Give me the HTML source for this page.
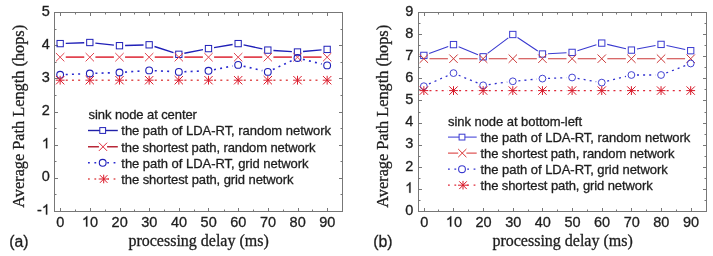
<!DOCTYPE html><html><head><meta charset="utf-8"><style>html,body{margin:0;padding:0;background:#fff;width:713px;height:256px;overflow:hidden}svg{display:block;will-change:transform}text{stroke:#1e1e1e;stroke-width:0.3px}</style></head><body><svg width="713" height="256" viewBox="0 0 713 256">
<rect width="713" height="256" fill="#fff"/>
<path d="M60.5 211v-3M60.5 13v3M75.5 211v-1.5M75.5 13v1.5M90.5 211v-3M90.5 13v3M105.5 211v-1.5M105.5 13v1.5M120.5 211v-3M120.5 13v3M134.5 211v-1.5M134.5 13v1.5M149.5 211v-3M149.5 13v3M164.5 211v-1.5M164.5 13v1.5M179.5 211v-3M179.5 13v3M194.5 211v-1.5M194.5 13v1.5M208.5 211v-3M208.5 13v3M224.5 211v-1.5M224.5 13v1.5M238.5 211v-3M238.5 13v3M253.5 211v-1.5M253.5 13v1.5M268.5 211v-3M268.5 13v3M283.5 211v-1.5M283.5 13v1.5M298.5 211v-3M298.5 13v3M312.5 211v-1.5M312.5 13v1.5M327.5 211v-3M327.5 13v3M55 211.5h3M342 211.5h-3M55 194.5h1.5M342 194.5h-1.5M55 178.5h3M342 178.5h-3M55 161.5h1.5M342 161.5h-1.5M55 145.5h3M342 145.5h-3M55 128.5h1.5M342 128.5h-1.5M55 112.5h3M342 112.5h-3M55 95.5h1.5M342 95.5h-1.5M55 78.5h3M342 78.5h-3M55 62.5h1.5M342 62.5h-1.5M55 45.5h3M342 45.5h-3M55 29.5h1.5M342 29.5h-1.5M55 12.5h3M342 12.5h-3" stroke="#777777" stroke-width="1" fill="none"/>
<rect x="54.5" y="12.5" width="288" height="199" fill="none" stroke="#777777" stroke-width="1"/>
<g font-family="Liberation Sans, sans-serif" font-size="14.5" fill="#1e1e1e"><text x="37.01" y="214.6">-</text><path transform="translate(41.84,214.6) scale(14.5,-14.5)" d="M0.372,0 L0.284,0 L0.284,0.560 C0.263,0.540 0.235,0.519 0.200,0.498 C0.166,0.478 0.135,0.462 0.108,0.452 L0.108,0.537 C0.157,0.560 0.200,0.588 0.237,0.621 C0.274,0.654 0.300,0.686 0.315,0.716 L0.372,0.716 Z" stroke="#1e1e1e" stroke-width="0.0207"/><text x="41.84" y="181.43">0</text><path transform="translate(41.84,148.27) scale(14.5,-14.5)" d="M0.372,0 L0.284,0 L0.284,0.560 C0.263,0.540 0.235,0.519 0.200,0.498 C0.166,0.478 0.135,0.462 0.108,0.452 L0.108,0.537 C0.157,0.560 0.200,0.588 0.237,0.621 C0.274,0.654 0.300,0.686 0.315,0.716 L0.372,0.716 Z" stroke="#1e1e1e" stroke-width="0.0207"/><text x="41.84" y="115.1">2</text><text x="41.84" y="81.93">3</text><text x="41.84" y="48.77">4</text><text x="41.84" y="15.6">5</text><text x="56.27" y="226.6">0</text><path transform="translate(81.91,226.6) scale(14.5,-14.5)" d="M0.372,0 L0.284,0 L0.284,0.560 C0.263,0.540 0.235,0.519 0.200,0.498 C0.166,0.478 0.135,0.462 0.108,0.452 L0.108,0.537 C0.157,0.560 0.200,0.588 0.237,0.621 C0.274,0.654 0.300,0.686 0.315,0.716 L0.372,0.716 Z" stroke="#1e1e1e" stroke-width="0.0207"/><text x="89.97" y="226.6">0</text><text x="111.57" y="226.6">2</text><text x="119.63" y="226.6">0</text><text x="141.24" y="226.6">3</text><text x="149.3" y="226.6">0</text><text x="170.91" y="226.6">4</text><text x="178.97" y="226.6">0</text><text x="200.57" y="226.6">5</text><text x="208.64" y="226.6">0</text><text x="230.24" y="226.6">6</text><text x="238.3" y="226.6">0</text><text x="259.91" y="226.6">7</text><text x="267.97" y="226.6">0</text><text x="289.57" y="226.6">8</text><text x="297.64" y="226.6">0</text><text x="319.24" y="226.6">9</text><text x="327.3" y="226.6">0</text></g>
<path d="M65.75 43.39L84.22 42.71M95.38 43.1L113.92 45.1M125.08 45.53L143.55 44.97M154.48 46.51L173.48 52.59M184.32 53.24L202.99 49.66M214.01 47.67L232.63 44.53M243.62 44.8L262.35 48.9M273.41 50.46L291.9 51.64M303.06 51.51L321.57 49.89" stroke="#2020b8" stroke-width="1.35" fill="none"/>
<rect x="57" y="40.45" width="6.3" height="6.3" fill="none" stroke="#2020b8" stroke-width="1.0"/><rect x="86.67" y="39.35" width="6.3" height="6.3" fill="none" stroke="#2020b8" stroke-width="1.0"/><rect x="116.33" y="42.55" width="6.3" height="6.3" fill="none" stroke="#2020b8" stroke-width="1.0"/><rect x="146" y="41.65" width="6.3" height="6.3" fill="none" stroke="#2020b8" stroke-width="1.0"/><rect x="175.67" y="51.15" width="6.3" height="6.3" fill="none" stroke="#2020b8" stroke-width="1.0"/><rect x="205.34" y="45.45" width="6.3" height="6.3" fill="none" stroke="#2020b8" stroke-width="1.0"/><rect x="235" y="40.45" width="6.3" height="6.3" fill="none" stroke="#2020b8" stroke-width="1.0"/><rect x="264.67" y="46.95" width="6.3" height="6.3" fill="none" stroke="#2020b8" stroke-width="1.0"/><rect x="294.34" y="48.85" width="6.3" height="6.3" fill="none" stroke="#2020b8" stroke-width="1.0"/><rect x="324" y="46.25" width="6.3" height="6.3" fill="none" stroke="#2020b8" stroke-width="1.0"/>
<path d="M65.75 57.2L84.22 57.2M95.42 57.2L113.88 57.2M125.08 57.2L143.55 57.2M154.75 57.2L173.22 57.2M184.42 57.2L202.89 57.2M214.09 57.2L232.55 57.2M243.75 57.2L262.22 57.2M273.42 57.2L291.89 57.2M303.09 57.2L321.55 57.2" stroke="#e24450" stroke-width="1.7" fill="none"/>
<path d="M55.95 53L64.35 61.4M55.95 61.4L64.35 53" stroke="#e24450" stroke-width="1.0" fill="none"/><path d="M85.62 53L94.02 61.4M85.62 61.4L94.02 53" stroke="#e24450" stroke-width="1.0" fill="none"/><path d="M115.28 53L123.68 61.4M115.28 61.4L123.68 53" stroke="#e24450" stroke-width="1.0" fill="none"/><path d="M144.95 53L153.35 61.4M144.95 61.4L153.35 53" stroke="#e24450" stroke-width="1.0" fill="none"/><path d="M174.62 53L183.02 61.4M174.62 61.4L183.02 53" stroke="#e24450" stroke-width="1.0" fill="none"/><path d="M204.29 53L212.69 61.4M204.29 61.4L212.69 53" stroke="#e24450" stroke-width="1.0" fill="none"/><path d="M233.95 53L242.35 61.4M233.95 61.4L242.35 53" stroke="#e24450" stroke-width="1.0" fill="none"/><path d="M263.62 53L272.02 61.4M263.62 61.4L272.02 53" stroke="#e24450" stroke-width="1.0" fill="none"/><path d="M293.29 53L301.69 61.4M293.29 61.4L301.69 53" stroke="#e24450" stroke-width="1.0" fill="none"/><path d="M322.95 53L331.35 61.4M322.95 61.4L331.35 53" stroke="#e24450" stroke-width="1.0" fill="none"/>
<path d="M65.74 74.55L84.22 73.75M95.41 73.31L113.89 72.69M125.07 72.1L143.56 70.8M154.74 70.68L173.23 71.62M184.41 71.69L202.89 71.01M213.98 69.71L232.66 65.99M243.6 66.19L262.37 70.61M272.89 69.52L292.42 60.38M302.92 59.36L321.72 64.04" stroke="#2a2ad0" stroke-width="1.6" fill="none" stroke-dasharray="2 4.2"/>
<circle cx="60.15" cy="74.8" r="3.4" fill="none" stroke="#2020b8" stroke-width="1.1"/><circle cx="89.82" cy="73.5" r="3.4" fill="none" stroke="#2020b8" stroke-width="1.1"/><circle cx="119.48" cy="72.5" r="3.4" fill="none" stroke="#2020b8" stroke-width="1.1"/><circle cx="149.15" cy="70.4" r="3.4" fill="none" stroke="#2020b8" stroke-width="1.1"/><circle cx="178.82" cy="71.9" r="3.4" fill="none" stroke="#2020b8" stroke-width="1.1"/><circle cx="208.49" cy="70.8" r="3.4" fill="none" stroke="#2020b8" stroke-width="1.1"/><circle cx="238.15" cy="64.9" r="3.4" fill="none" stroke="#2020b8" stroke-width="1.1"/><circle cx="267.82" cy="71.9" r="3.4" fill="none" stroke="#2020b8" stroke-width="1.1"/><circle cx="297.49" cy="58" r="3.4" fill="none" stroke="#2020b8" stroke-width="1.1"/><circle cx="327.15" cy="65.4" r="3.4" fill="none" stroke="#2020b8" stroke-width="1.1"/>
<path d="M65.75 80.2L84.22 80.2M95.42 80.2L113.88 80.2M125.08 80.2L143.55 80.2M154.75 80.2L173.22 80.2M184.42 80.2L202.89 80.2M214.09 80.2L232.55 80.2M243.75 80.2L262.22 80.2M273.42 80.2L291.89 80.2M303.09 80.2L321.55 80.2" stroke="#e05050" stroke-width="1.6" fill="none" stroke-dasharray="2 4.2"/>
<path d="M55.75 80.2H64.55M60.15 75.8V84.6M55.97 76.02L64.33 84.38M55.97 84.38L64.33 76.02" stroke="#dc1c2c" stroke-width="1.0" fill="none"/><path d="M85.42 80.2H94.22M89.82 75.8V84.6M85.64 76.02L94 84.38M85.64 84.38L94 76.02" stroke="#dc1c2c" stroke-width="1.0" fill="none"/><path d="M115.08 80.2H123.88M119.48 75.8V84.6M115.3 76.02L123.66 84.38M115.3 84.38L123.66 76.02" stroke="#dc1c2c" stroke-width="1.0" fill="none"/><path d="M144.75 80.2H153.55M149.15 75.8V84.6M144.97 76.02L153.33 84.38M144.97 84.38L153.33 76.02" stroke="#dc1c2c" stroke-width="1.0" fill="none"/><path d="M174.42 80.2H183.22M178.82 75.8V84.6M174.64 76.02L183 84.38M174.64 84.38L183 76.02" stroke="#dc1c2c" stroke-width="1.0" fill="none"/><path d="M204.09 80.2H212.89M208.49 75.8V84.6M204.31 76.02L212.67 84.38M204.31 84.38L212.67 76.02" stroke="#dc1c2c" stroke-width="1.0" fill="none"/><path d="M233.75 80.2H242.55M238.15 75.8V84.6M233.97 76.02L242.33 84.38M233.97 84.38L242.33 76.02" stroke="#dc1c2c" stroke-width="1.0" fill="none"/><path d="M263.42 80.2H272.22M267.82 75.8V84.6M263.64 76.02L272 84.38M263.64 84.38L272 76.02" stroke="#dc1c2c" stroke-width="1.0" fill="none"/><path d="M293.09 80.2H301.89M297.49 75.8V84.6M293.31 76.02L301.67 84.38M293.31 84.38L301.67 76.02" stroke="#dc1c2c" stroke-width="1.0" fill="none"/><path d="M322.75 80.2H331.55M327.15 75.8V84.6M322.97 76.02L331.33 84.38M322.97 84.38L331.33 76.02" stroke="#dc1c2c" stroke-width="1.0" fill="none"/>
<g font-family="Liberation Sans, sans-serif" font-size="13" fill="#1e1e1e">
<text x="88.6" y="119.2" textLength="108.3">sink node at center</text>
<text x="121.3" y="135.3" textLength="209.8">the path of LDA-RT, random network</text>
<text x="121.3" y="151.6" textLength="194.1">the shortest path, random network</text>
<text x="121.3" y="167.6" textLength="187.3">the path of LDA-RT, grid network</text>
<text x="121.3" y="183.8" textLength="172.2">the shortest path, grid network</text>
</g>
<path d="M88 130.5H117.8" stroke="#2020a8" stroke-width="1.4"/>
<rect x="99.8" y="127.6" width="5.8" height="5.8" fill="#fff" stroke="#2020b8" stroke-width="1.0"/>
<path d="M88 146.8H98.9M107.1 146.8H117.8" stroke="#b82838" stroke-width="1.4"/>
<path d="M98.9 142.7L107.1 150.9M98.9 150.9L107.1 142.7" stroke="#e02838" stroke-width="1.0" fill="none"/>
<path d="M88 162.8H117.8" stroke="#2a2ad0" stroke-width="1.6" stroke-dasharray="1.8 4.6"/>
<circle cx="102.7" cy="162.8" r="3.4" fill="#fff" stroke="#2020b8" stroke-width="1.1"/>
<path d="M88 179.0H117.8" stroke="#e05050" stroke-width="1.6" stroke-dasharray="1.8 4.6"/>
<rect x="98.7" y="175.0" width="9" height="8" fill="#fff"/>
<path d="M98.7 179H108.7M103.7 174.7V183.3M99.95 175.13L107.45 182.87M99.95 182.87L107.45 175.13" stroke="#dc1c2c" stroke-width="1.0" fill="none"/>
<text x="198.6" y="245.8" text-anchor="middle" font-family="Liberation Serif, serif" font-size="16" fill="#1e1e1e">processing delay (ms)</text>
<text x="9.3" y="247" font-family="Liberation Sans, sans-serif" font-size="15.8" fill="#1e1e1e">(a)</text>
<path d="M424.5 211v-3M424.5 13v3M438.5 211v-1.5M438.5 13v1.5M453.5 211v-3M453.5 13v3M468.5 211v-1.5M468.5 13v1.5M483.5 211v-3M483.5 13v3M498.5 211v-1.5M498.5 13v1.5M513.5 211v-3M513.5 13v3M528.5 211v-1.5M528.5 13v1.5M542.5 211v-3M542.5 13v3M557.5 211v-1.5M557.5 13v1.5M572.5 211v-3M572.5 13v3M587.5 211v-1.5M587.5 13v1.5M602.5 211v-3M602.5 13v3M616.5 211v-1.5M616.5 13v1.5M631.5 211v-3M631.5 13v3M646.5 211v-1.5M646.5 13v1.5M661.5 211v-3M661.5 13v3M676.5 211v-1.5M676.5 13v1.5M691.5 211v-3M691.5 13v3M419 211.5h3M706 211.5h-3M419 200.5h1.5M706 200.5h-1.5M419 189.5h3M706 189.5h-3M419 178.5h1.5M706 178.5h-1.5M419 167.5h3M706 167.5h-3M419 156.5h1.5M706 156.5h-1.5M419 145.5h3M706 145.5h-3M419 134.5h1.5M706 134.5h-1.5M419 123.5h3M706 123.5h-3M419 112.5h1.5M706 112.5h-1.5M419 100.5h3M706 100.5h-3M419 89.5h1.5M706 89.5h-1.5M419 78.5h3M706 78.5h-3M419 67.5h1.5M706 67.5h-1.5M419 56.5h3M706 56.5h-3M419 45.5h1.5M706 45.5h-1.5M419 34.5h3M706 34.5h-3M419 23.5h1.5M706 23.5h-1.5M419 12.5h3M706 12.5h-3" stroke="#777777" stroke-width="1" fill="none"/>
<rect x="418.5" y="12.5" width="288" height="199" fill="none" stroke="#777777" stroke-width="1"/>
<g font-family="Liberation Sans, sans-serif" font-size="14.5" fill="#1e1e1e"><text x="405.14" y="214.8">0</text><path transform="translate(405.14,192.69) scale(14.5,-14.5)" d="M0.372,0 L0.284,0 L0.284,0.560 C0.263,0.540 0.235,0.519 0.200,0.498 C0.166,0.478 0.135,0.462 0.108,0.452 L0.108,0.537 C0.157,0.560 0.200,0.588 0.237,0.621 C0.274,0.654 0.300,0.686 0.315,0.716 L0.372,0.716 Z" stroke="#1e1e1e" stroke-width="0.0207"/><text x="405.14" y="170.58">2</text><text x="405.14" y="148.47">3</text><text x="405.14" y="126.36">4</text><text x="405.14" y="104.24">5</text><text x="405.14" y="82.13">6</text><text x="405.14" y="60.02">7</text><text x="405.14" y="37.91">8</text><text x="405.14" y="15.8">9</text><text x="420.27" y="226.6">0</text><path transform="translate(445.87,226.6) scale(14.5,-14.5)" d="M0.372,0 L0.284,0 L0.284,0.560 C0.263,0.540 0.235,0.519 0.200,0.498 C0.166,0.478 0.135,0.462 0.108,0.452 L0.108,0.537 C0.157,0.560 0.200,0.588 0.237,0.621 C0.274,0.654 0.300,0.686 0.315,0.716 L0.372,0.716 Z" stroke="#1e1e1e" stroke-width="0.0207"/><text x="453.93" y="226.6">0</text><text x="475.5" y="226.6">2</text><text x="483.56" y="226.6">0</text><text x="505.13" y="226.6">3</text><text x="513.19" y="226.6">0</text><text x="534.76" y="226.6">4</text><text x="542.82" y="226.6">0</text><text x="564.39" y="226.6">5</text><text x="572.45" y="226.6">0</text><text x="594.02" y="226.6">6</text><text x="602.08" y="226.6">0</text><text x="623.65" y="226.6">7</text><text x="631.71" y="226.6">0</text><text x="653.28" y="226.6">8</text><text x="661.34" y="226.6">0</text><text x="682.91" y="226.6">9</text><text x="690.97" y="226.6">0</text></g>
<path d="M429.11 53.48L448.24 46.52M458.68 46.73L477.97 54.67M487.63 53.43L508.32 37.87M517.48 37.58L537.77 50.92M548.04 53.7L566.51 52.7M577.44 50.72L596.41 44.78M607.2 44.39L625.95 48.81M636.9 49.04L655.55 45.46M666.53 45.56L685.22 49.54" stroke="#3a3ad0" stroke-width="1.1" fill="none"/>
<rect x="420.7" y="52.25" width="6.3" height="6.3" fill="none" stroke="#3a3ad0" stroke-width="1.0"/><rect x="450.35" y="41.45" width="6.3" height="6.3" fill="none" stroke="#3a3ad0" stroke-width="1.0"/><rect x="480" y="53.65" width="6.3" height="6.3" fill="none" stroke="#3a3ad0" stroke-width="1.0"/><rect x="509.65" y="31.35" width="6.3" height="6.3" fill="none" stroke="#3a3ad0" stroke-width="1.0"/><rect x="539.3" y="50.85" width="6.3" height="6.3" fill="none" stroke="#3a3ad0" stroke-width="1.0"/><rect x="568.95" y="49.25" width="6.3" height="6.3" fill="none" stroke="#3a3ad0" stroke-width="1.0"/><rect x="598.6" y="39.95" width="6.3" height="6.3" fill="none" stroke="#3a3ad0" stroke-width="1.0"/><rect x="628.25" y="46.95" width="6.3" height="6.3" fill="none" stroke="#3a3ad0" stroke-width="1.0"/><rect x="657.9" y="41.25" width="6.3" height="6.3" fill="none" stroke="#3a3ad0" stroke-width="1.0"/><rect x="687.55" y="47.55" width="6.3" height="6.3" fill="none" stroke="#3a3ad0" stroke-width="1.0"/>
<path d="M429.45 58.7L447.9 58.7M459.1 58.7L477.55 58.7M488.75 58.7L507.2 58.7M518.4 58.7L536.85 58.7M548.05 58.7L566.5 58.7M577.7 58.7L596.15 58.7M607.35 58.7L625.8 58.7M637 58.7L655.45 58.7M666.65 58.7L685.1 58.7" stroke="#cc3838" stroke-width="1.1" fill="none"/>
<path d="M419.65 54.5L428.05 62.9M419.65 62.9L428.05 54.5" stroke="#cc3838" stroke-width="1.0" fill="none"/><path d="M449.3 54.5L457.7 62.9M449.3 62.9L457.7 54.5" stroke="#cc3838" stroke-width="1.0" fill="none"/><path d="M478.95 54.5L487.35 62.9M478.95 62.9L487.35 54.5" stroke="#cc3838" stroke-width="1.0" fill="none"/><path d="M508.6 54.5L517 62.9M508.6 62.9L517 54.5" stroke="#cc3838" stroke-width="1.0" fill="none"/><path d="M538.25 54.5L546.65 62.9M538.25 62.9L546.65 54.5" stroke="#cc3838" stroke-width="1.0" fill="none"/><path d="M567.9 54.5L576.3 62.9M567.9 62.9L576.3 54.5" stroke="#cc3838" stroke-width="1.0" fill="none"/><path d="M597.55 54.5L605.95 62.9M597.55 62.9L605.95 54.5" stroke="#cc3838" stroke-width="1.0" fill="none"/><path d="M627.2 54.5L635.6 62.9M627.2 62.9L635.6 54.5" stroke="#cc3838" stroke-width="1.0" fill="none"/><path d="M656.85 54.5L665.25 62.9M656.85 62.9L665.25 54.5" stroke="#cc3838" stroke-width="1.0" fill="none"/><path d="M686.5 54.5L694.9 62.9M686.5 62.9L694.9 54.5" stroke="#cc3838" stroke-width="1.0" fill="none"/>
<path d="M428.97 83.94L448.38 75.36M458.68 75.23L477.97 83.17M488.7 84.55L507.25 82.05M518.38 80.79L536.87 79.11M548.05 78.39L566.5 77.71M577.62 78.45L596.23 81.65M607.17 81.21L625.98 76.39M637 75L655.45 75M666.27 72.97L685.48 65.53" stroke="#3030d0" stroke-width="1.3" fill="none" stroke-dasharray="2 4.1"/>
<circle cx="423.85" cy="86.2" r="3.4" fill="none" stroke="#3a3ad0" stroke-width="0.95"/><circle cx="453.5" cy="73.1" r="3.4" fill="none" stroke="#3a3ad0" stroke-width="0.95"/><circle cx="483.15" cy="85.3" r="3.4" fill="none" stroke="#3a3ad0" stroke-width="0.95"/><circle cx="512.8" cy="81.3" r="3.4" fill="none" stroke="#3a3ad0" stroke-width="0.95"/><circle cx="542.45" cy="78.6" r="3.4" fill="none" stroke="#3a3ad0" stroke-width="0.95"/><circle cx="572.1" cy="77.5" r="3.4" fill="none" stroke="#3a3ad0" stroke-width="0.95"/><circle cx="601.75" cy="82.6" r="3.4" fill="none" stroke="#3a3ad0" stroke-width="0.95"/><circle cx="631.4" cy="75" r="3.4" fill="none" stroke="#3a3ad0" stroke-width="0.95"/><circle cx="661.05" cy="75" r="3.4" fill="none" stroke="#3a3ad0" stroke-width="0.95"/><circle cx="690.7" cy="63.5" r="3.4" fill="none" stroke="#3a3ad0" stroke-width="0.95"/>
<path d="M429.45 90.6L447.9 90.6M459.1 90.6L477.55 90.6M488.75 90.6L507.2 90.6M518.4 90.6L536.85 90.6M548.05 90.6L566.5 90.6M577.7 90.6L596.15 90.6M607.35 90.6L625.8 90.6M637 90.6L655.45 90.6M666.65 90.6L685.1 90.6" stroke="#e02838" stroke-width="1.3" fill="none" stroke-dasharray="2 4.1"/>
<path d="M419.45 90.6H428.25M423.85 86.2V95M419.67 86.42L428.03 94.78M419.67 94.78L428.03 86.42" stroke="#d81828" stroke-width="1.0" fill="none"/><path d="M449.1 90.6H457.9M453.5 86.2V95M449.32 86.42L457.68 94.78M449.32 94.78L457.68 86.42" stroke="#d81828" stroke-width="1.0" fill="none"/><path d="M478.75 90.6H487.55M483.15 86.2V95M478.97 86.42L487.33 94.78M478.97 94.78L487.33 86.42" stroke="#d81828" stroke-width="1.0" fill="none"/><path d="M508.4 90.6H517.2M512.8 86.2V95M508.62 86.42L516.98 94.78M508.62 94.78L516.98 86.42" stroke="#d81828" stroke-width="1.0" fill="none"/><path d="M538.05 90.6H546.85M542.45 86.2V95M538.27 86.42L546.63 94.78M538.27 94.78L546.63 86.42" stroke="#d81828" stroke-width="1.0" fill="none"/><path d="M567.7 90.6H576.5M572.1 86.2V95M567.92 86.42L576.28 94.78M567.92 94.78L576.28 86.42" stroke="#d81828" stroke-width="1.0" fill="none"/><path d="M597.35 90.6H606.15M601.75 86.2V95M597.57 86.42L605.93 94.78M597.57 94.78L605.93 86.42" stroke="#d81828" stroke-width="1.0" fill="none"/><path d="M627 90.6H635.8M631.4 86.2V95M627.22 86.42L635.58 94.78M627.22 94.78L635.58 86.42" stroke="#d81828" stroke-width="1.0" fill="none"/><path d="M656.65 90.6H665.45M661.05 86.2V95M656.87 86.42L665.23 94.78M656.87 94.78L665.23 86.42" stroke="#d81828" stroke-width="1.0" fill="none"/><path d="M686.3 90.6H695.1M690.7 86.2V95M686.52 86.42L694.88 94.78M686.52 94.78L694.88 86.42" stroke="#d81828" stroke-width="1.0" fill="none"/>
<g font-family="Liberation Sans, sans-serif" font-size="13" fill="#1e1e1e">
<text x="448.0" y="125.8" textLength="134.0">sink node at bottom-left</text>
<text x="480.5" y="141.9" textLength="209.8">the path of LDA-RT, random network</text>
<text x="480.5" y="157.9" textLength="194.1">the shortest path, random network</text>
<text x="480.5" y="174" textLength="187.3">the path of LDA-RT, grid network</text>
<text x="480.5" y="190" textLength="172.2">the shortest path, grid network</text>
</g>
<path d="M448 137.1H476.7" stroke="#4848d8" stroke-width="1.1"/>
<rect x="459.1" y="134.2" width="5.8" height="5.8" fill="#fff" stroke="#3a3ad0" stroke-width="1.0"/>
<path d="M448 153.1H458.2M466.40000000000003 153.1H476.7" stroke="#e05858" stroke-width="1.1"/>
<path d="M458.2 149L466.4 157.2M458.2 157.2L466.4 149" stroke="#d83030" stroke-width="1.0" fill="none"/>
<path d="M448 169.2H476.7" stroke="#3030d0" stroke-width="1.3" stroke-dasharray="1.8 4.6"/>
<circle cx="462" cy="169.2" r="3.4" fill="#fff" stroke="#3a3ad0" stroke-width="1.1"/>
<path d="M448 185.2H476.7" stroke="#e02838" stroke-width="1.3" stroke-dasharray="1.8 4.6"/>
<rect x="458" y="181.2" width="9" height="8" fill="#fff"/>
<path d="M458 185.2H468M463 180.9V189.5M459.25 181.33L466.75 189.07M459.25 189.07L466.75 181.33" stroke="#d81828" stroke-width="1.0" fill="none"/>
<text x="562.6" y="245.8" text-anchor="middle" font-family="Liberation Serif, serif" font-size="16" fill="#1e1e1e">processing delay (ms)</text>
<text x="373.3" y="247" font-family="Liberation Sans, sans-serif" font-size="15.8" fill="#1e1e1e">(b)</text>
<text transform="translate(24,116.3) rotate(-90)" text-anchor="middle" font-family="Liberation Serif, serif" font-size="16.3" fill="#1e1e1e">Average Path Length (hops)</text>
<text transform="translate(388,116.3) rotate(-90)" text-anchor="middle" font-family="Liberation Serif, serif" font-size="16.3" fill="#1e1e1e">Average Path Length (hops)</text>
</svg></body></html>
